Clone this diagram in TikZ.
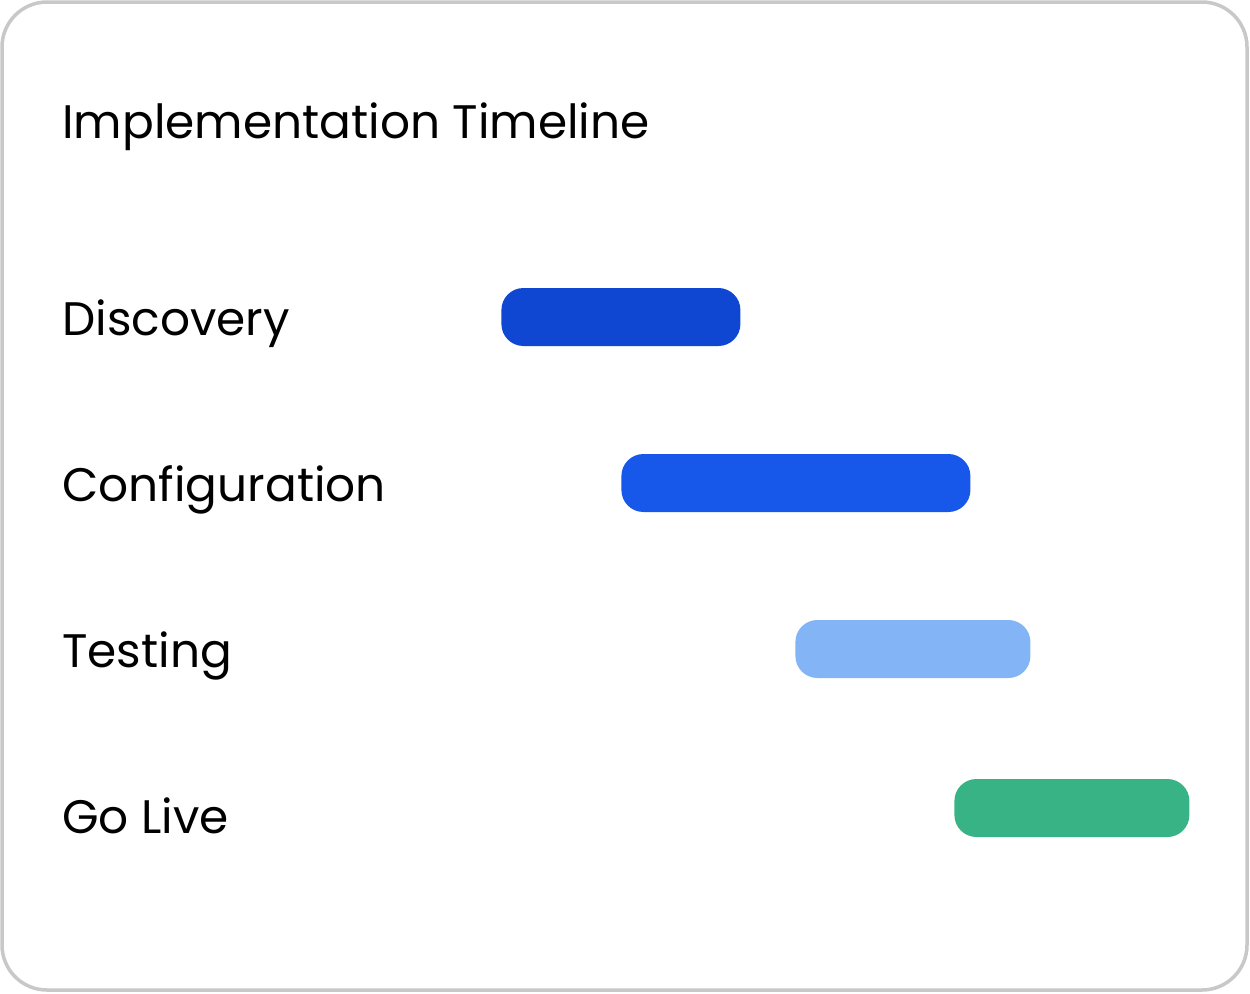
\documentclass[tikz,border=0pt]{standalone}
\usepackage{fontspec}
\setmainfont{Poppins}
\usepackage{xcolor}
\usepackage{tikz}
\definecolor{framegray}{RGB}{200,200,200}
\definecolor{discoverybar}{RGB}{15,71,211}
\definecolor{configbar}{RGB}{23,87,233}
\definecolor{testingbar}{RGB}{131,180,246}
\definecolor{golivebar}{RGB}{56,179,133}
\tikzset{
  frame/.style={draw=framegray,line width=1.75pt,rounded corners=22.5pt,fill=white},
  title/.style={anchor=base west,inner sep=0pt,font=\fontsize{23.5}{28}\selectfont},
  phase/.style={anchor=base west,inner sep=0pt,font=\fontsize{23.5}{28}\selectfont},
  bar/.style={rectangle,inner sep=0pt,minimum height=29pt,rounded corners=11pt,anchor=west}
}

\begin{document}
\begin{tikzpicture}[x=0.5pt,y=-0.5pt]
  \useasboundingbox (0,0) rectangle (1250,993);
  \draw[frame] (2,2) rectangle (1247,990);
  \node[title] (heading) at (62,138) {Implementation Timeline};
  % phase labels
  \node[phase] (discovery) at (62,335) {Discovery};
  \node[phase] (configuration) at (62,501) {Configuration};
  \node[phase] (testing) at (62,667) {Testing};
  \node[phase] (golive) at (62,833) {Go Live};
  % bars
  \node[bar,fill=discoverybar,minimum width=119.5pt] (discoverybar) at (501,317) {};
  \node[bar,fill=configbar,minimum width=174.5pt] (configbar) at (621,483) {};
  \node[bar,fill=testingbar,minimum width=117.5pt] (testingbar) at (795,649) {};
  \node[bar,fill=golivebar,minimum width=117.5pt] (golivebar) at (954,808) {};
\end{tikzpicture}
\end{document}
